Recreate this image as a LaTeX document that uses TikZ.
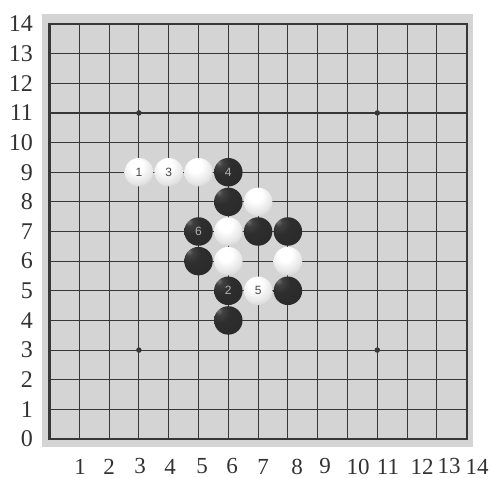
\documentclass[tikz,border=0pt]{standalone}
\usepackage{fontspec}
\setmainfont{Liberation Serif}
\setsansfont{Liberation Sans}
\definecolor{boardgray}{RGB}{212,212,212}
\definecolor{gridcol}{RGB}{55,55,55}
\definecolor{labelcol}{RGB}{50,50,50}
\pgfdeclareradialshading{blackstone}{\pgfpoint{-18bp}{18bp}}{%
  color(0bp)=(black!55); color(7bp)=(black!75); color(18bp)=(black!82);
  color(45bp)=(black!84); color(80bp)=(black!86)}
\pgfdeclareradialshading{whitestone}{\pgfpoint{-6bp}{14bp}}{%
  color(0bp)=(white); color(12bp)=(white); color(28bp)=(black!10);
  color(42bp)=(black!24); color(56bp)=(black!36); color(80bp)=(black!48)}
\begin{document}
\begin{tikzpicture}[x=1pt,y=1pt,
  rowlbl/.style={font=\fontsize{24}{24}\selectfont, text=labelcol, inner sep=0pt, anchor=east},
  collbl/.style={font=\fontsize{23}{23}\selectfont, text=labelcol, inner sep=0pt},
  gridline/.style={draw=gridcol, line width=1.1pt},
  frameline/.style={draw=gridcol, line width=2.2pt},
  stone/.style={circle, minimum size=28.5pt, inner sep=0pt, draw=none,
    font=\sffamily\fontsize{12}{12}\selectfont},
  bstone/.style={stone, shading=blackstone, text=black!30},
  wstone/.style={stone, shading=whitestone, text=black!72},
  starpt/.style={circle, fill=gridcol, inner sep=0pt, minimum size=5.5pt}]
\useasboundingbox (0,0) rectangle (491,478);
% board background
\fill[boardgray] (42,31) rectangle (473,464);
\begin{scope}[shift={(49.5pt,39pt)}, x=29.8pt, y=29.64pt]
  \foreach \i in {1,...,13} {
    \draw[gridline] (\i,0) -- (\i,14);
    \draw[gridline] (0,\i) -- (14,\i);
  }
  \draw[frameline] (0,0) rectangle (14,14);
  \node[starpt] (s1) at (3,3) {};
  \node[starpt] (s2) at (11,3) {};
  \node[starpt] (s3) at (3,11) {};
  \node[starpt] (s4) at (11,11) {};
  % row labels
  \foreach \j in {0,...,14} {
    \node[rowlbl] (r\j) at (-0.55,\j) {\j};
  }
  % white stones
  \node[wstone] (w1) at (3,9) {1};
  \node[wstone] (w3) at (4,9) {3};
  \node[wstone] (wa) at (5,9) {};
  \node[wstone] (wb) at (7,8) {};
  \node[wstone] (wc) at (6,7) {};
  \node[wstone] (wd) at (6,6) {};
  \node[wstone] (we) at (8,6) {};
  \node[wstone] (w5) at (7,5) {5};
  % black stones
  \node[bstone] (b4) at (6,9) {4};
  \node[bstone] (ba) at (6,8) {};
  \node[bstone] (b6) at (5,7) {6};
  \node[bstone] (bb) at (7,7) {};
  \node[bstone] (bc) at (8,7) {};
  \node[bstone] (bd) at (5,6) {};
  \node[bstone] (b2) at (6,5) {2};
  \node[bstone] (be) at (8,5) {};
  \node[bstone] (bf) at (6,4) {};
\end{scope}
% column labels
\foreach \n/\x in {1/80,2/109,3/140,4/170,5/202,6/232,7/263,8/297,9/325,10/358,11/388,12/422,13/449,14/477} {
  \node[collbl] (c\n) at (\x,11.5) {\n};
}
\end{tikzpicture}
\end{document}
